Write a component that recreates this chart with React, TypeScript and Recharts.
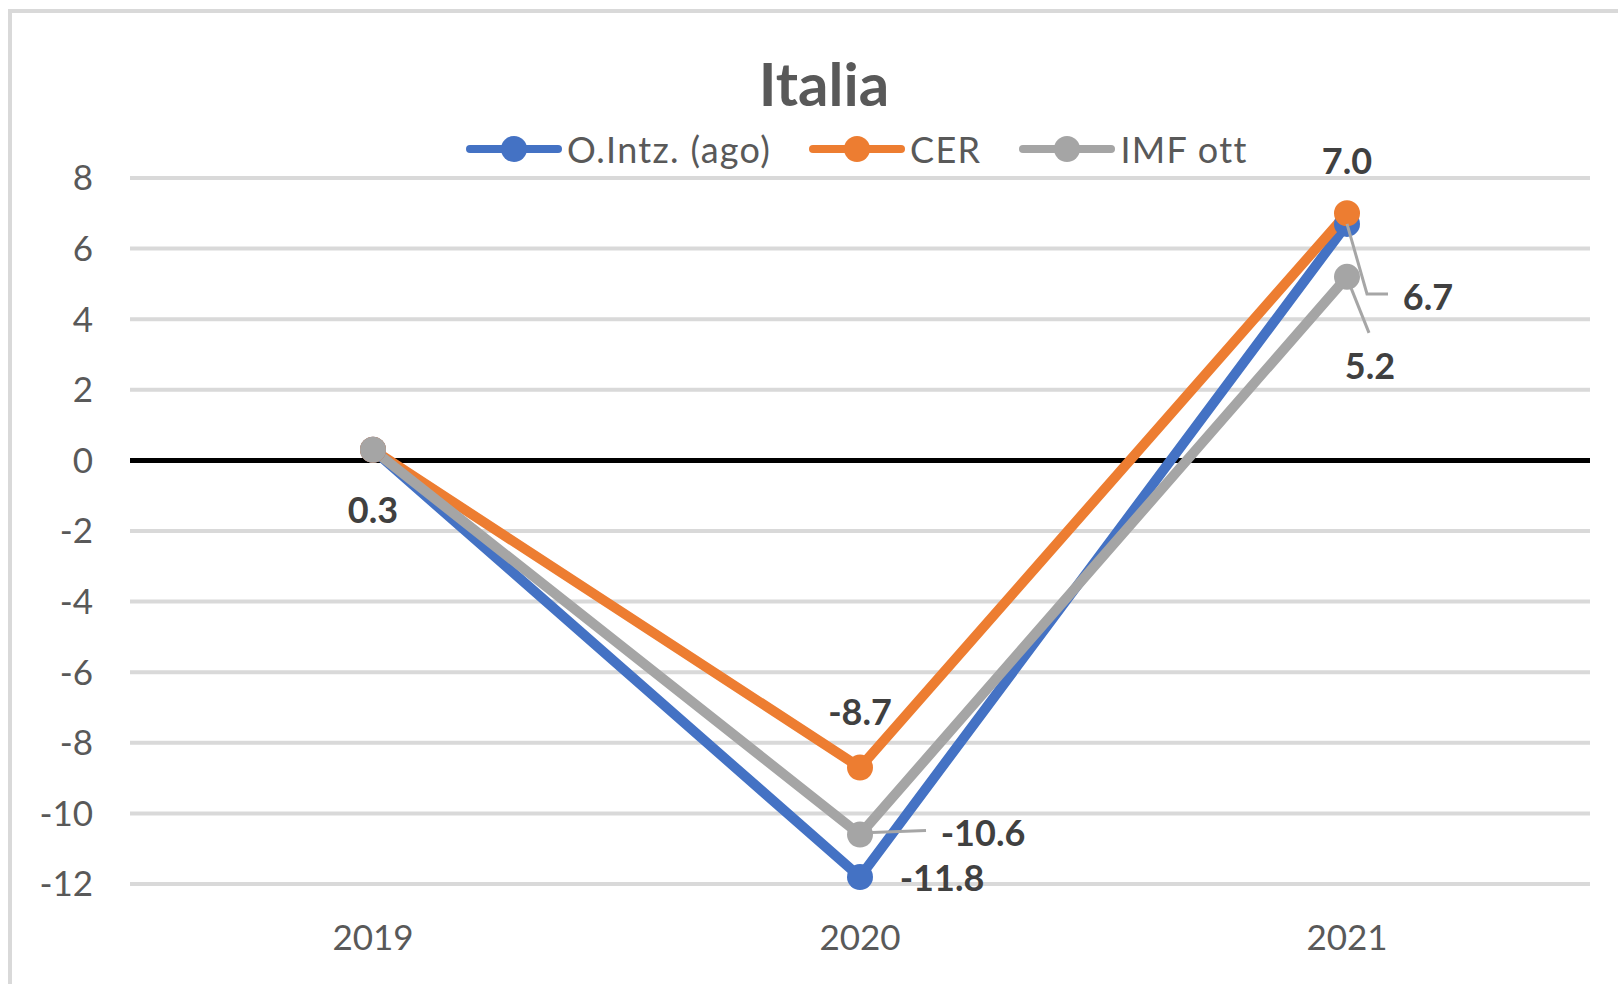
import {
  LineChart,
  Line,
  XAxis,
  YAxis,
  CartesianGrid,
  Legend,
  LabelList,
  ReferenceLine,
} from 'recharts';

const years = ['2019', '2020', '2021'];
const oIntz = [0.3, -11.8, 6.7];
const cer = [0.3, -8.7, 7.0];
const imf = [0.3, -10.6, 5.2];
const yTicks = [-12, -10, -8, -6, -4, -2, 0, 2, 4, 6, 8];

const data = years.map((year, i) => ({
  year,
  oIntz: oIntz[i],
  cer: cer[i],
  imf: imf[i],
}));

const series = [
  { key: 'oIntz', name: 'O.Intz. (ago)', color: '#4472c4' },
  { key: 'cer', name: 'CER', color: '#ed7d31' },
  { key: 'imf', name: 'IMF ott', color: '#a5a5a5' },
];

// where each data label sits, relative to its point (null = no label)
type Place = { dx: number; dy: number; leader?: number[][] } | null;
const placement: Record<string, Place[]> = {
  oIntz: [null, { dx: 82, dy: 1 }, { dx: 81, dy: 73, leader: [[0, 0], [20, 70], [41, 70]] }],
  cer: [null, { dx: 0, dy: -56 }, { dx: 0, dy: -52 }],
  imf: [
    { dx: 0, dy: 60 },
    { dx: 123, dy: -2, leader: [[12, -2], [66, -4]] },
    { dx: 23, dy: 89, leader: [[4, 11], [22, 56]] },
  ],
};

const FONT = 'Lato, "Open Sans", sans-serif';

const makeLabel = (key: string) => (props: any) => {
  const { x, y, value, index } = props;
  const p = placement[key][index];
  if (!p) return null;
  return (
    <g>
      {p.leader && (
        <polyline
          points={p.leader.map(([a, b]) => `${x + a},${y + b}`).join(' ')}
          stroke="#a6a6a6"
          strokeWidth={3}
          fill="none"
        />
      )}
      <text
        x={x + p.dx}
        y={y + p.dy + 13}
        textAnchor="middle"
        fontFamily={FONT}
        fontWeight="bold"
        fontSize={36}
        fill="#404040"
      >
        {Number(value).toFixed(1)}
      </text>
    </g>
  );
};

const renderLegend = () => (
  <div style={{ display: 'flex', alignItems: 'center' }}>
    {series.map((s) => (
      <div
        key={s.key}
        style={{ display: 'flex', alignItems: 'center', marginRight: 38 }}
      >
        <svg width={96} height={28}>
          <line x1={4} y1={14} x2={92} y2={14} stroke={s.color} strokeWidth={8} strokeLinecap="round" />
          <circle cx={48} cy={14} r={13} fill={s.color} />
        </svg>
        <span
          style={{
            marginLeft: 5,
            fontFamily: FONT,
            fontSize: 36,
            letterSpacing: 1.3,
            color: '#595959',
            lineHeight: '44px',
          }}
        >
          {s.name}
        </span>
      </div>
    ))}
  </div>
);

export default function App() {
  return (
    <div
      style={{
        position: 'absolute',
        left: 0,
        top: 0,
        width: 1618,
        height: 984,
        overflow: 'hidden',
        background: '#fff',
      }}
    >
      <div
        style={{
          position: 'absolute',
          left: 8,
          top: 9,
          width: 1700,
          height: 1100,
          border: '4px solid #d9d9d9',
          boxSizing: 'border-box',
        }}
      />
      <div
        style={{
          position: 'absolute',
          left: 624,
          top: 53,
          width: 400,
          textAlign: 'center',
          fontFamily: FONT,
          fontWeight: 'bold',
          fontSize: 60,
          lineHeight: '60px',
          color: '#595959',
        }}
      >
        Italia
      </div>
      <div style={{ position: 'absolute', left: 0, top: 0 }}>
        <LineChart
          width={1618}
          height={984}
          data={data}
          margin={{ top: 178, right: 28, left: 0, bottom: 0 }}
        >
          <CartesianGrid vertical={false} stroke="#d9d9d9" strokeWidth={4} />
          <XAxis
            dataKey="year"
            height={100}
            padding={{ left: 243, right: 243 }}
            axisLine={false}
            tickLine={false}
            tickSize={0}
            tickMargin={41}
            tick={{ fontFamily: FONT, fontSize: 35, fill: '#595959' }}
          />
          <YAxis
            width={130}
            domain={[-12, 8]}
            ticks={yTicks}
            interval={0}
            axisLine={false}
            tickLine={false}
            tickSize={0}
            tickMargin={37}
            tick={{ fontFamily: FONT, fontSize: 35, fill: '#595959' }}
          />
          <ReferenceLine y={0} stroke="#000000" strokeWidth={5} />
          <Legend
            layout="horizontal"
            verticalAlign="middle"
            align="center"
            content={renderLegend}
            wrapperStyle={{ left: 466, top: 127, width: 'auto' }}
          />
          {series.map((s) => (
            <Line
              key={s.key}
              dataKey={s.key}
              name={s.name}
              stroke={s.color}
              strokeWidth={10}
              dot={{ r: 13, fill: s.color, stroke: 'none' }}
              activeDot={false}
              isAnimationActive={false}
            >
              <LabelList dataKey={s.key} content={makeLabel(s.key)} />
            </Line>
          ))}
        </LineChart>
      </div>
    </div>
  );
}
